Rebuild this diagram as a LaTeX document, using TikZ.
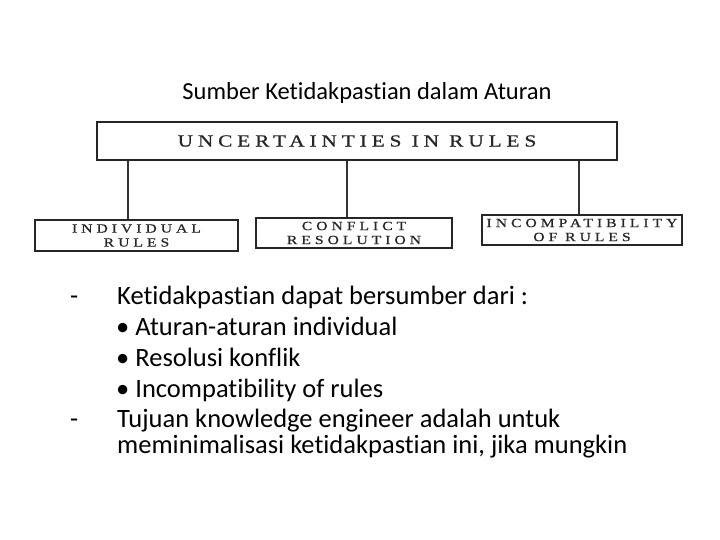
\documentclass[tikz,border=0pt]{standalone}
\usepackage{fontspec}
\setmainfont{Carlito}[Ligatures=NoCommon]
\newfontfamily\scanfont{Liberation Serif}[FakeStretch=1.25,FakeBold=0.8,LetterSpace=29]
\newfontfamily\scansmall{Liberation Serif}[FakeStretch=1.25,FakeBold=0.8,LetterSpace=32]

\begin{document}
\begin{tikzpicture}[x=1pt,y=-1pt,
  box/.style={draw=black!85,line width=1.2pt,inner sep=0pt,align=center,text=black!85},
  subbox/.style={box,font=\scansmall\fontsize{12.5}{14}\selectfont},
  line/.style={draw=black!80,line width=1.1pt},
  body/.style={anchor=base west,inner sep=0pt,font=\fontsize{26.5}{30}\selectfont}]
\useasboundingbox (0,0) rectangle (720,540);

\node [anchor=base,inner sep=0pt,font=\fontsize{24.5}{28}\selectfont] (title) at (367,100) {Sumber Ketidakpastian dalam Aturan};

\node [box,minimum width=520pt,minimum height=38pt,font=\scanfont\fontsize{17}{19}\selectfont] (top) at (357,141) {UNCERTAINTIES IN RULES};
\node [subbox,minimum width=203pt,minimum height=31pt] (indiv) at (136.5,235.5) {INDIVIDUAL\\RULES};
\node [subbox,minimum width=196pt,minimum height=30pt] (confl) at (354,233) {CONFLICT\\RESOLUTION};
\node [subbox,minimum width=200pt,minimum height=30pt] (incomp) at (582,230) {INCOMPATIBILITY\\OF RULES};

\coordinate (c1) at (128,0);
\coordinate (c2) at (347,0);
\coordinate (c3) at (579,0);
\draw [line] (top.south -| c1) -- (indiv.north -| c1);
\draw [line] (top.south -| c2) -- (confl.north -| c2);
\draw [line] (top.south -| c3) -- (incomp.north -| c3);

\node [body] (dash1) at (70,304) {-};
\node [body] (l1) at (117,304) {Ketidakpastian dapat bersumber dari :};
\node [body] (l2) at (116,335) {• Aturan-aturan individual};
\node [body] (l3) at (116,366) {• Resolusi konflik};
\node [body] (l4) at (116,397) {• Incompatibility of rules};
\node [body] (dash2) at (70,427) {-};
\node [body] (l5) at (117,427) {Tujuan knowledge engineer adalah untuk};
\node [body] (l6) at (117,453) {meminimalisasi ketidakpastian ini, jika mungkin};
\end{tikzpicture}
\end{document}
